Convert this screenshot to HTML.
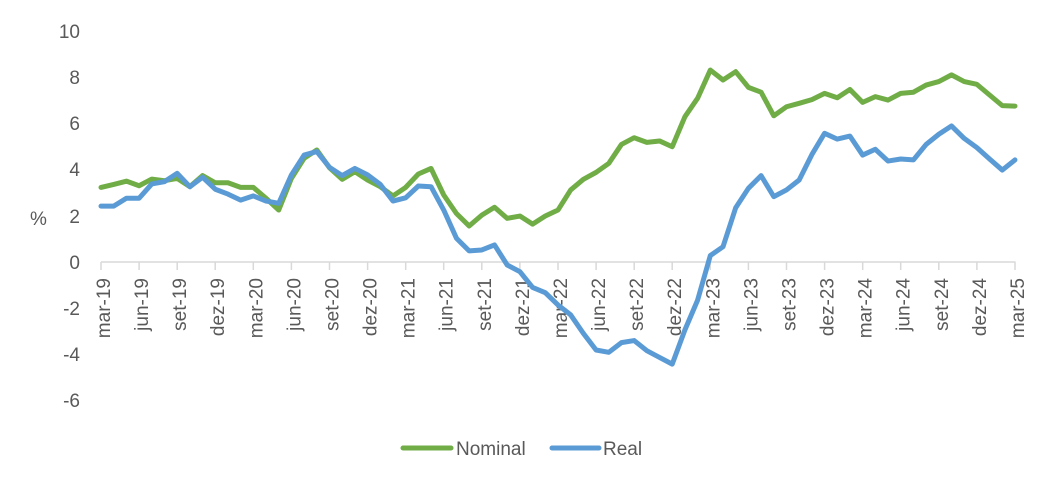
<!DOCTYPE html>
<html>
<head>
<meta charset="utf-8">
<style>
  html, body { margin: 0; padding: 0; background: #ffffff; }
  body { width: 1059px; height: 485px; overflow: hidden; }
  svg { display: block; }
  text { font-family: "Liberation Sans", Arial, sans-serif; fill: #595959; }
</style>
</head>
<body>
<svg width="1059" height="485" viewBox="0 0 1059 485" xmlns="http://www.w3.org/2000/svg">
  <rect x="0" y="0" width="1059" height="485" fill="#ffffff"/>

  <!-- Y axis labels -->
  <g font-size="19" text-anchor="end">
    <text x="80" y="38">10</text>
    <text x="80" y="84">8</text>
    <text x="80" y="130">6</text>
    <text x="80" y="176">4</text>
    <text x="80" y="223">2</text>
    <text x="80" y="269">0</text>
    <text x="80" y="315">-2</text>
    <text x="80" y="361">-4</text>
    <text x="80" y="407">-6</text>
  </g>
  <text x="30" y="225" font-size="19">%</text>

  <!-- X axis line and ticks -->
  <g stroke="#d9d9d9" stroke-width="1.5" fill="none">
    <line x1="101" y1="262" x2="1015.5" y2="262"/>
    <path d="M101,262v8 M139.1,262v8 M177.2,262v8 M215.2,262v8 M253.3,262v8 M291.4,262v8 M329.5,262v8 M367.6,262v8 M405.7,262v8 M443.7,262v8 M481.8,262v8 M519.9,262v8 M558,262v8 M596.1,262v8 M634.2,262v8 M672.2,262v8 M710.3,262v8 M748.4,262v8 M786.5,262v8 M824.6,262v8 M862.7,262v8 M900.7,262v8 M938.8,262v8 M976.9,262v8 M1015,262v8"/>
  </g>

  <!-- X axis labels (rotated) -->
  <g font-size="19" text-anchor="end">
    <text transform="translate(110,278) rotate(-90)">mar-19</text>
    <text transform="translate(148.1,278) rotate(-90)">jun-19</text>
    <text transform="translate(186.2,278) rotate(-90)">set-19</text>
    <text transform="translate(224.2,278) rotate(-90)">dez-19</text>
    <text transform="translate(262.3,278) rotate(-90)">mar-20</text>
    <text transform="translate(300.4,278) rotate(-90)">jun-20</text>
    <text transform="translate(338.5,278) rotate(-90)">set-20</text>
    <text transform="translate(376.6,278) rotate(-90)">dez-20</text>
    <text transform="translate(414.7,278) rotate(-90)">mar-21</text>
    <text transform="translate(452.7,278) rotate(-90)">jun-21</text>
    <text transform="translate(490.8,278) rotate(-90)">set-21</text>
    <text transform="translate(528.9,278) rotate(-90)">dez-21</text>
    <text transform="translate(567,278) rotate(-90)">mar-22</text>
    <text transform="translate(605.1,278) rotate(-90)">jun-22</text>
    <text transform="translate(643.2,278) rotate(-90)">set-22</text>
    <text transform="translate(681.2,278) rotate(-90)">dez-22</text>
    <text transform="translate(719.3,278) rotate(-90)">mar-23</text>
    <text transform="translate(757.4,278) rotate(-90)">jun-23</text>
    <text transform="translate(795.5,278) rotate(-90)">set-23</text>
    <text transform="translate(833.6,278) rotate(-90)">dez-23</text>
    <text transform="translate(871.7,278) rotate(-90)">mar-24</text>
    <text transform="translate(909.7,278) rotate(-90)">jun-24</text>
    <text transform="translate(947.8,278) rotate(-90)">set-24</text>
    <text transform="translate(985.9,278) rotate(-90)">dez-24</text>
    <text transform="translate(1024,278) rotate(-90)">mar-25</text>
  </g>

  <!-- Series -->
  <g transform="translate(101,262) scale(12.694,-23.1)" fill="none" stroke-linejoin="round" stroke-linecap="round">
    <polyline vector-effect="non-scaling-stroke" stroke="#70ad47" stroke-width="5"
      points="0,3.23 1,3.36 2,3.5 3,3.3 4,3.59 5,3.52 6,3.62 7,3.26 8,3.74 9,3.43 10,3.43 11,3.23 12,3.23 13,2.76 14,2.25 15,3.62 16,4.49 17,4.85 18,4.08 19,3.58 20,3.91 21,3.55 22,3.26 23,2.86 24,3.23 25,3.81 26,4.05 27,2.9 28,2.1 29,1.56 30,2.03 31,2.37 32,1.89 33,1.99 34,1.64 35,1.99 36,2.25 37,3.12 38,3.58 39,3.88 40,4.27 41,5.09 42,5.38 43,5.18 44,5.24 45,4.99 46,6.29 47,7.09 48,8.31 49,7.88 50,8.24 51,7.56 52,7.35 53,6.33 54,6.72 55,6.87 56,7.03 57,7.3 58,7.11 59,7.47 60,6.91 61,7.16 62,7.01 63,7.3 64,7.35 65,7.66 66,7.81 67,8.1 68,7.81 69,7.69 70,7.23 71,6.77 72,6.75"/>
    <polyline vector-effect="non-scaling-stroke" stroke="#5b9bd5" stroke-width="5"
      points="0,2.42 1,2.42 2,2.76 3,2.76 4,3.38 5,3.48 6,3.84 7,3.26 8,3.67 9,3.15 10,2.94 11,2.68 12,2.86 13,2.64 14,2.54 15,3.77 16,4.63 17,4.78 18,4.1 19,3.74 20,4.05 21,3.77 22,3.36 23,2.64 24,2.78 25,3.29 26,3.26 27,2.25 28,1.03 29,0.48 30,0.52 31,0.74 32,-0.13 33,-0.42 34,-1.1 35,-1.33 36,-1.86 37,-2.29 38,-3.09 39,-3.81 40,-3.91 41,-3.49 42,-3.4 43,-3.84 44,-4.13 45,-4.42 46,-2.94 47,-1.65 48,0.28 49,0.66 50,2.35 51,3.19 52,3.74 53,2.83 54,3.12 55,3.55 56,4.65 57,5.57 58,5.32 59,5.45 60,4.63 61,4.88 62,4.37 63,4.46 64,4.42 65,5.09 66,5.53 67,5.89 68,5.35 69,4.95 70,4.46 71,3.98 72,4.42"/>
  </g>

  <!-- Legend -->
  <line x1="403" y1="448" x2="451" y2="448" stroke="#70ad47" stroke-width="5" stroke-linecap="round"/>
  <text x="456" y="455" font-size="19">Nominal</text>
  <line x1="552" y1="448" x2="599" y2="448" stroke="#5b9bd5" stroke-width="5" stroke-linecap="round"/>
  <text x="603" y="455" font-size="19">Real</text>
</svg>
</body>
</html>
